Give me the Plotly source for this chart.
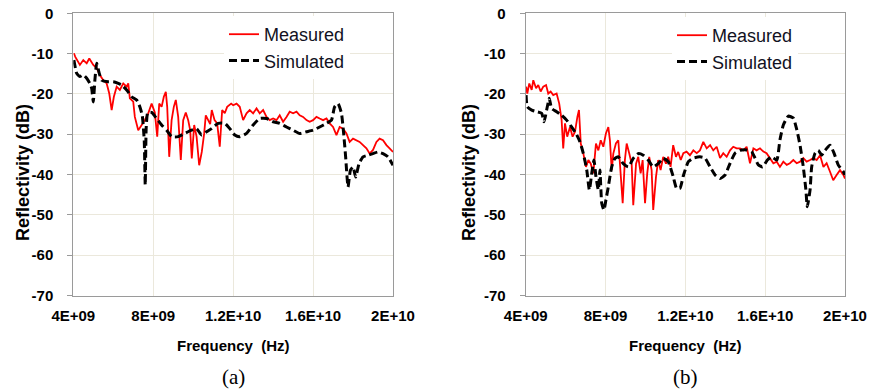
import plotly.graph_objects as go

# ---- data: frequency in GHz, reflectivity in dB ----
# (a) measured
freq_a_meas = [4.03, 4.10, 4.33, 4.50, 4.67, 4.80, 5.00, 5.17, 5.33, 5.50,
               5.67, 5.80, 5.92, 6.03, 6.17, 6.33, 6.50, 6.67, 6.75, 6.83,
               7.00, 7.08, 7.25, 7.42, 7.58, 7.75, 7.92, 8.08, 8.20, 8.30,
               8.42, 8.53, 8.63, 8.70, 8.80, 8.92, 9.03, 9.13, 9.25, 9.38,
               9.50, 9.63, 9.75, 9.85, 9.93, 10.05, 10.17, 10.30, 10.43, 10.55,
               10.63, 10.75, 10.85, 10.93, 11.07, 11.20, 11.33, 11.45, 11.58, 11.70,
               11.90, 12.00, 12.17, 12.33, 12.50, 12.67, 12.83, 13.00, 13.17, 13.33,
               13.50, 13.67, 13.83, 14.00, 14.17, 14.33, 14.50, 14.67, 14.83, 15.00,
               15.17, 15.33, 15.50, 15.67, 15.83, 16.00, 16.17, 16.33, 16.50, 16.67,
               16.83, 17.00, 17.17, 17.33, 17.50, 17.67, 17.83, 18.00, 18.17, 18.33,
               18.50, 18.67, 18.83, 19.00, 19.17, 19.33, 19.50, 19.67, 19.83, 20.00]
refl_a_meas = [-9.9, -10.8, -12.8, -11.6, -12.4, -11.2, -12.8, -13.6, -15.3, -16.6,
               -17.4, -19.9, -24.0, -20.7, -18.2, -19.0, -17.4, -18.2, -17.4, -21.1,
               -21.9, -25.7, -29.0, -27.7, -26.5, -24.8, -22.4, -24.6, -30.6, -22.4,
               -23.2, -20.7, -19.5, -23.2, -35.6, -26.5, -23.2, -21.5, -25.7, -36.4,
               -26.5, -24.6, -26.5, -29.0, -36.0, -27.7, -30.6, -37.7, -34.4, -29.8,
               -25.3, -26.5, -27.5, -24.0, -26.5, -27.3, -33.1, -24.0, -24.8, -23.2,
               -22.4, -22.8, -22.4, -23.2, -26.5, -24.8, -24.0, -24.8, -23.6, -24.8,
               -24.0, -25.7, -26.5, -26.1, -26.5, -25.3, -26.9, -25.7, -24.4, -24.8,
               -24.4, -25.3, -25.7, -26.5, -26.9, -26.5, -25.7, -26.1, -26.5, -26.1,
               -27.3, -28.2, -30.2, -28.2, -28.6, -29.8, -31.9, -31.1, -31.5, -31.9,
               -32.7, -33.5, -34.8, -33.9, -31.9, -31.1, -31.5, -32.7, -33.5, -34.4]

# (a) simulated
freq_a_sim = [4.03, 4.17, 4.33, 4.50, 4.67, 4.83, 4.92, 5.00, 5.08, 5.17,
              5.30, 5.42, 5.75, 6.00, 6.25, 6.42, 6.67, 6.92, 7.17, 7.33,
              7.45, 7.55, 7.60, 7.65, 7.73, 7.92, 8.17, 8.42, 8.67, 8.92,
              9.25, 9.58, 9.92, 10.17, 10.42, 10.67, 10.92, 11.25, 11.58, 11.83,
              12.08, 12.33, 12.67, 13.00, 13.33, 13.67, 14.00, 14.33, 14.67, 15.00,
              15.33, 15.67, 16.00, 16.33, 16.67, 16.92, 17.08, 17.25, 17.42, 17.53,
              17.63, 17.75, 17.87, 18.00, 18.13, 18.30, 18.50, 18.75, 19.00, 19.25,
              19.50, 19.75, 20.00]
refl_a_sim = [-11.6, -14.9, -15.7, -15.3, -16.1, -17.4, -18.6, -22.0, -16.6, -12.4,
              -14.9, -16.6, -17.0, -17.0, -17.4, -17.8, -19.0, -20.7, -21.5, -23.2,
              -25.3, -31.5, -42.6, -28.2, -24.6, -24.6, -26.1, -27.7, -29.0, -30.6,
              -30.6, -29.8, -29.0, -28.6, -30.2, -29.4, -28.6, -27.3, -27.3, -28.6,
              -30.2, -30.6, -29.8, -27.7, -26.1, -26.1, -26.9, -27.3, -28.2, -29.0,
              -29.8, -29.4, -29.0, -28.2, -27.3, -26.5, -23.2, -22.4, -24.8, -29.8,
              -35.6, -43.1, -38.9, -38.1, -40.6, -37.3, -35.6, -35.2, -34.8, -34.4,
              -34.8, -35.6, -37.7]

# (b) measured
freq_b_meas = [4.02, 4.08, 4.18, 4.30, 4.38, 4.52, 4.63, 4.75, 4.88, 5.02,
               5.13, 5.25, 5.38, 5.55, 5.68, 5.80, 5.88, 5.97, 6.08, 6.22,
               6.35, 6.47, 6.59, 6.67, 6.76, 6.89, 7.02, 7.14, 7.26, 7.39,
               7.52, 7.64, 7.76, 7.89, 8.02, 8.14, 8.22, 8.31, 8.39, 8.52,
               8.64, 8.76, 8.86, 8.97, 9.06, 9.19, 9.31, 9.39, 9.53, 9.64,
               9.76, 9.86, 9.98, 10.09, 10.19, 10.31, 10.39, 10.53, 10.64, 10.76,
               10.89, 11.03, 11.14, 11.26, 11.39, 11.53, 11.64, 11.77, 11.90, 12.06,
               12.23, 12.40, 12.57, 12.73, 12.90, 13.07, 13.24, 13.40, 13.57, 13.74,
               13.90, 14.07, 14.24, 14.40, 14.57, 14.74, 14.91, 15.07, 15.24, 15.41,
               15.57, 15.74, 15.91, 16.07, 16.24, 16.41, 16.58, 16.74, 16.91, 17.08,
               17.24, 17.41, 17.58, 17.75, 17.91, 18.08, 18.25, 18.41, 18.58, 18.75,
               18.92, 19.08, 19.25, 19.41, 19.58, 19.75, 19.92, 20.00]
refl_b_meas = [-18.2, -19.9, -17.4, -19.0, -16.6, -18.6, -17.8, -19.4, -18.2, -17.8,
               -19.9, -19.4, -20.3, -19.9, -22.4, -26.5, -33.5, -27.3, -30.6, -28.2,
               -30.6, -29.4, -25.7, -24.0, -32.3, -34.8, -38.1, -36.4, -37.3, -39.7,
               -32.3, -34.0, -31.5, -33.1, -29.8, -28.2, -31.5, -38.9, -34.8, -32.3,
               -31.5, -38.9, -47.1, -36.4, -32.3, -34.8, -37.3, -47.6, -37.3, -35.6,
               -39.7, -36.4, -47.1, -39.7, -35.6, -38.9, -48.8, -40.5, -36.4, -38.9,
               -35.6, -37.3, -35.6, -38.1, -32.7, -35.6, -34.4, -36.4, -34.7, -34.3,
               -35.2, -34.0, -34.7, -34.0, -31.9, -33.5, -32.7, -34.0, -33.1, -35.9,
               -34.7, -35.6, -34.0, -33.1, -33.5, -33.5, -34.0, -33.1, -37.2, -33.5,
               -34.0, -33.5, -34.3, -34.7, -35.9, -37.2, -36.8, -38.1, -36.8, -37.6,
               -37.2, -36.4, -37.2, -36.8, -35.9, -36.8, -36.4, -35.9, -36.4, -35.2,
               -38.1, -37.2, -39.3, -41.4, -40.1, -38.9, -40.1, -41.0]

# (b) simulated
freq_b_sim = [4.02, 4.08, 4.30, 4.55, 4.80, 4.92, 5.05, 5.18, 5.30, 5.55,
              5.80, 6.05, 6.30, 6.52, 6.72, 6.89, 7.06, 7.19, 7.31, 7.42,
              7.52, 7.64, 7.72, 7.81, 7.92, 8.02, 8.14, 8.31, 8.47, 8.64,
              8.89, 9.14, 9.39, 9.64, 9.89, 10.14, 10.39, 10.64, 10.89, 11.14,
              11.39, 11.56, 11.73, 11.90, 12.15, 12.40, 12.73, 12.98, 13.24, 13.49,
              13.74, 13.99, 14.24, 14.49, 14.74, 15.07, 15.32, 15.49, 15.66, 15.87,
              16.11, 16.32, 16.58, 16.74, 16.91, 17.16, 17.41, 17.58, 17.75, 17.91,
              18.04, 18.11, 18.25, 18.33, 18.50, 18.66, 18.83, 19.00, 19.25, 19.45,
              19.66, 19.92, 20.00]
refl_b_sim = [-20.3, -23.2, -24.0, -24.4, -24.8, -26.9, -24.0, -21.1, -23.6, -24.4,
              -25.3, -26.5, -28.2, -29.8, -31.9, -34.8, -38.9, -43.8, -39.7, -36.4,
              -40.5, -43.8, -38.9, -47.1, -48.8, -46.3, -43.0, -38.1, -36.0, -35.6,
              -37.3, -38.1, -36.0, -34.8, -35.2, -36.4, -38.1, -37.3, -36.0, -36.8,
              -40.5, -43.4, -43.4, -40.3, -36.8, -35.9, -35.6, -35.9, -38.1, -40.1,
              -41.0, -40.1, -37.2, -34.7, -34.0, -33.9, -34.3, -35.9, -37.6, -38.1,
              -36.4, -35.6, -36.4, -31.4, -27.7, -25.5, -26.0, -28.8, -32.8, -38.1,
              -43.8, -48.0, -43.8, -38.1, -34.7, -34.0, -35.2, -34.0, -32.7, -34.7,
              -37.6, -39.3, -40.1]

x_tick_vals = [4e9, 8e9, 1.2e10, 1.6e10, 2e10]
x_tick_text = ["4E+09", "8E+09", "1.2E+10", "1.6E+10", "2E+10"]
y_tick_vals = [0, -10, -20, -30, -40, -50, -60, -70]
y_tick_text = ["0", "-10", "-20", "-30", "-40", "-50", "-60", "-70"]
captions = ["(a)", "(b)"]

# ---- styling ----
W, H = 872, 390
SANS = "Liberation Sans, Arial, sans-serif"
SERIF = "Liberation Serif, Times New Roman, serif"
GRID = "#ebe8dc"
FRAME = "#9a9a9a"
GHZ = 1e9


def px_x(p):
    return p / W


def px_y(p):
    return 1 - p / H


panels = [
    dict(xd=(73.3, 393.0), meas=(freq_a_meas, refl_a_meas), sim=(freq_a_sim, refl_a_sim),
         legend="legend", leg_x=229, leg_y=16, ytitle_x=23),
    dict(xd=(525.7, 845.0), meas=(freq_b_meas, refl_b_meas), sim=(freq_b_sim, refl_b_sim),
         legend="legend2", leg_x=677, leg_y=17, ytitle_x=469),
]
y_dom = (px_y(295.5), px_y(13.3))

fig = go.Figure()
layout = dict(
    width=W, height=H, margin=dict(l=0, r=0, t=0, b=0, autoexpand=False),
    paper_bgcolor="white", plot_bgcolor="white",
    font=dict(family=SANS, color="black"),
    annotations=[],
)

for i, p in enumerate(panels):
    n = i + 1
    xa = "x" if n == 1 else f"x{n}"
    ya = "y" if n == 1 else f"y{n}"
    xkey = "xaxis" if n == 1 else f"xaxis{n}"
    ykey = "yaxis" if n == 1 else f"yaxis{n}"

    fm, dm = p["meas"]
    fs, ds = p["sim"]
    fig.add_trace(go.Scatter(
        x=[f * GHZ for f in fm], y=dm, mode="lines", name="Measured",
        line=dict(color="#ff0000", width=1.8), xaxis=xa, yaxis=ya,
        legend=p["legend"]))
    fig.add_trace(go.Scatter(
        x=[f * GHZ for f in fs], y=ds, mode="lines", name="Simulated",
        line=dict(color="black", width=3, dash="8px,4px", shape="spline", smoothing=0.5),
        xaxis=xa, yaxis=ya, legend=p["legend"]))

    layout[xkey] = dict(
        domain=[px_x(p["xd"][0]), px_x(p["xd"][1])], anchor=ya, automargin=False,
        range=[4e9, 2e10], tickmode="array", tickvals=x_tick_vals, ticktext=x_tick_text,
        showgrid=True, gridcolor=GRID, gridwidth=1, zeroline=False,
        showline=True, mirror=True, linecolor=FRAME, linewidth=1,
        ticks="", ticklabelstandoff=6,
        tickfont=dict(family=SANS, size=15, weight="bold", color="black"),
    )
    layout[ykey] = dict(
        domain=list(y_dom), anchor=xa, range=[-70, 0], automargin=False,
        tickmode="array", tickvals=y_tick_vals, ticktext=y_tick_text,
        showgrid=True, gridcolor=GRID, gridwidth=1, zeroline=False,
        showline=True, mirror=True, linecolor=FRAME, linewidth=1,
        ticks="outside", ticklen=5, tickcolor=FRAME, ticklabelstandoff=11,
        tickfont=dict(family=SANS, size=15, weight="bold", color="black"),
    )
    # horizontal axis drawn at 0 dB: tick marks along the top edge
    tkey = f"xaxis{n + 2}"
    layout[tkey] = dict(
        overlaying=xa, anchor=ya, side="top", range=[4e9, 2e10], automargin=False,
        tickmode="linear", tick0=4e9, dtick=2e9, ticks="outside", ticklen=3,
        tickcolor="#555", showticklabels=False, showgrid=False, showline=False,
        zeroline=False,
    )

    layout[p["legend"]] = dict(
        x=px_x(p["leg_x"] - 5), y=px_y(p["leg_y"]), xanchor="left", yanchor="top",
        bgcolor="white", borderwidth=0,
        font=dict(family=SANS, size=18, color="#111122"),
        tracegroupgap=0,
    )

    cx = (p["xd"][0] + p["xd"][1]) / 2
    layout["annotations"] += [
        dict(text="Frequency\u00a0 (Hz)", x=px_x(cx), y=px_y(345), xref="paper", yref="paper",
             xanchor="center", yanchor="middle", showarrow=False,
             font=dict(family=SANS, size=15, weight="bold", color="black")),
        dict(text=captions[i], x=px_x(cx), y=px_y(377), xref="paper", yref="paper",
             xanchor="center", yanchor="middle", showarrow=False,
             font=dict(family=SERIF, size=21, color="black")),
        dict(text="Reflectivity (dB)", x=px_x(p["ytitle_x"]), y=px_y(173),
             xref="paper", yref="paper", xanchor="center", yanchor="middle",
             textangle=-90, showarrow=False,
             font=dict(family=SANS, size=18, weight="bold", color="black")),
    ]

fig.update_layout(**layout)
fig.write_html("out.html", config={"displayModeBar": False})
